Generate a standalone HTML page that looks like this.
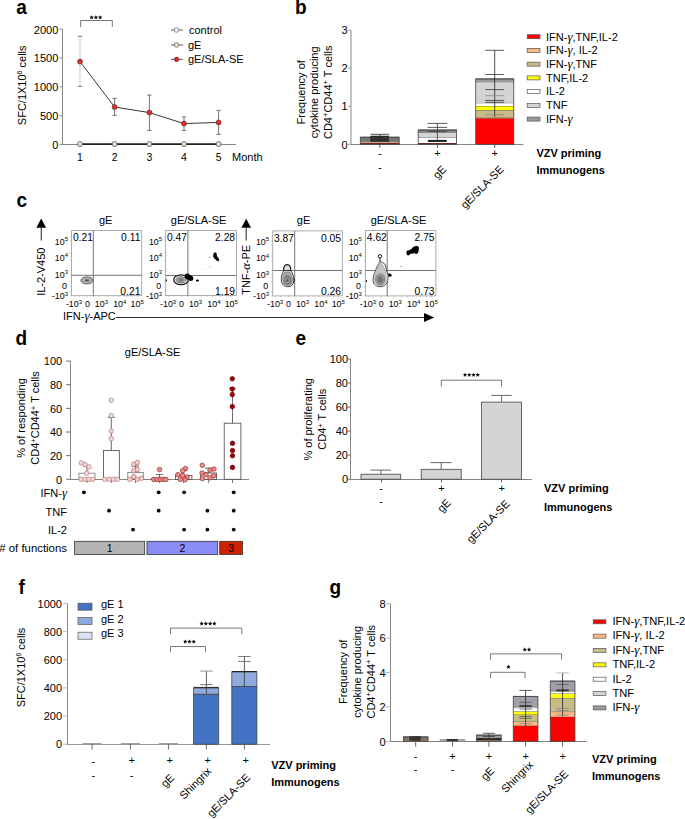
<!DOCTYPE html>
<html><head><meta charset="utf-8"><style>
html,body{margin:0;padding:0;background:#fff;}
svg{display:block;}
text{font-family:"Liberation Sans", sans-serif;}
</style></head><body>
<svg width="685" height="819" viewBox="0 0 685 819" font-family='"Liberation Sans", sans-serif'>
<rect width="685" height="819" fill="#fff"/>
<text transform="translate(16.2,14.1) scale(1,1.09)" font-size="19" font-weight="bold">a</text>
<line x1="62.5" y1="29.2" x2="62.5" y2="145" stroke="#858585" stroke-width="1" />
<line x1="59.4" y1="144.4" x2="62.5" y2="144.4" stroke="#858585" stroke-width="0.9" />
<text x="58.3" y="148.70000000000002" font-size="11" text-anchor="end" fill="#000" >0</text>
<line x1="59.4" y1="115.60000000000001" x2="62.5" y2="115.60000000000001" stroke="#858585" stroke-width="0.9" />
<text x="58.3" y="119.9" font-size="11" text-anchor="end" fill="#000" >500</text>
<line x1="59.4" y1="86.80000000000001" x2="62.5" y2="86.80000000000001" stroke="#858585" stroke-width="0.9" />
<text x="58.3" y="91.10000000000001" font-size="11" text-anchor="end" fill="#000" >1000</text>
<line x1="59.4" y1="58.0" x2="62.5" y2="58.0" stroke="#858585" stroke-width="0.9" />
<text x="58.3" y="62.3" font-size="11" text-anchor="end" fill="#000" >1500</text>
<line x1="59.4" y1="29.200000000000003" x2="62.5" y2="29.200000000000003" stroke="#858585" stroke-width="0.9" />
<text x="58.3" y="33.5" font-size="11" text-anchor="end" fill="#000" >2000</text>
<line x1="62" y1="144.5" x2="236" y2="144.5" stroke="#858585" stroke-width="1" />
<line x1="80" y1="144.5" x2="80" y2="147" stroke="#858585" stroke-width="0.9" />
<text x="80" y="161" font-size="10.5" text-anchor="middle" fill="#000" >1</text>
<line x1="114.6" y1="144.5" x2="114.6" y2="147" stroke="#858585" stroke-width="0.9" />
<text x="114.6" y="161" font-size="10.5" text-anchor="middle" fill="#000" >2</text>
<line x1="149.4" y1="144.5" x2="149.4" y2="147" stroke="#858585" stroke-width="0.9" />
<text x="149.4" y="161" font-size="10.5" text-anchor="middle" fill="#000" >3</text>
<line x1="184" y1="144.5" x2="184" y2="147" stroke="#858585" stroke-width="0.9" />
<text x="184" y="161" font-size="10.5" text-anchor="middle" fill="#000" >4</text>
<line x1="218.6" y1="144.5" x2="218.6" y2="147" stroke="#858585" stroke-width="0.9" />
<text x="218.6" y="161" font-size="10.5" text-anchor="middle" fill="#000" >5</text>
<text x="232" y="161" font-size="11" text-anchor="start" fill="#000" >Month</text>
<text transform="translate(26.2,85.3) rotate(-90)" font-size="11" text-anchor="middle">SFC/1X10<tspan dy="-4" font-size="7">6</tspan><tspan dy="4"> cells</tspan></text>
<line x1="80" y1="36.4" x2="80" y2="86.4" stroke="#bbb" stroke-width="0.8" />
<line x1="77.8" y1="36.4" x2="82.2" y2="36.4" stroke="#bbb" stroke-width="0.8" />
<line x1="77.8" y1="86.4" x2="82.2" y2="86.4" stroke="#bbb" stroke-width="0.8" />
<line x1="77.8" y1="36.4" x2="82.2" y2="36.4" stroke="#777" stroke-width="0.8" />
<line x1="77.8" y1="86.4" x2="82.2" y2="86.4" stroke="#777" stroke-width="0.8" />
<line x1="114.6" y1="98.4" x2="114.6" y2="115.4" stroke="#555" stroke-width="0.8" />
<line x1="112.39999999999999" y1="98.4" x2="116.8" y2="98.4" stroke="#555" stroke-width="0.8" />
<line x1="112.39999999999999" y1="115.4" x2="116.8" y2="115.4" stroke="#555" stroke-width="0.8" />
<line x1="149.4" y1="95" x2="149.4" y2="130.4" stroke="#555" stroke-width="0.8" />
<line x1="147.20000000000002" y1="95" x2="151.6" y2="95" stroke="#555" stroke-width="0.8" />
<line x1="147.20000000000002" y1="130.4" x2="151.6" y2="130.4" stroke="#555" stroke-width="0.8" />
<line x1="184" y1="117" x2="184" y2="130.4" stroke="#555" stroke-width="0.8" />
<line x1="181.8" y1="117" x2="186.2" y2="117" stroke="#555" stroke-width="0.8" />
<line x1="181.8" y1="130.4" x2="186.2" y2="130.4" stroke="#555" stroke-width="0.8" />
<line x1="218.6" y1="110.4" x2="218.6" y2="134.4" stroke="#555" stroke-width="0.8" />
<line x1="216.4" y1="110.4" x2="220.79999999999998" y2="110.4" stroke="#555" stroke-width="0.8" />
<line x1="216.4" y1="134.4" x2="220.79999999999998" y2="134.4" stroke="#555" stroke-width="0.8" />
<polyline points="80,61.6 114.6,107 149.4,112.6 184,123.6 218.6,122.4" fill="none" stroke="#222" stroke-width="0.9"/>
<line x1="80" y1="144.1" x2="218.6" y2="144.1" stroke="#222" stroke-width="1.6" />
<circle cx="80" cy="61.6" r="2.5" fill="#ee2a2a" stroke="#333" stroke-width="0.6"/>
<circle cx="114.6" cy="107" r="2.5" fill="#ee2a2a" stroke="#333" stroke-width="0.6"/>
<circle cx="149.4" cy="112.6" r="2.5" fill="#ee2a2a" stroke="#333" stroke-width="0.6"/>
<circle cx="184" cy="123.6" r="2.5" fill="#ee2a2a" stroke="#333" stroke-width="0.6"/>
<circle cx="218.6" cy="122.4" r="2.5" fill="#ee2a2a" stroke="#333" stroke-width="0.6"/>
<circle cx="80" cy="144.0" r="2.5" fill="#ece4c4" stroke="#444" stroke-width="0.7"/>
<circle cx="114.6" cy="144.0" r="2.5" fill="#ece4c4" stroke="#444" stroke-width="0.7"/>
<circle cx="149.4" cy="144.0" r="2.5" fill="#ece4c4" stroke="#444" stroke-width="0.7"/>
<circle cx="184" cy="144.0" r="2.5" fill="#ece4c4" stroke="#444" stroke-width="0.7"/>
<circle cx="218.6" cy="144.0" r="2.5" fill="#ece4c4" stroke="#444" stroke-width="0.7"/>
<polyline points="80.6,27 80.6,20.5 112.3,20.5 112.3,27" fill="none" stroke="#555" stroke-width="0.8"/>
<polygon points="91.65,15.15 92.31,16.49 93.79,16.70 92.72,17.75 92.97,19.22 91.65,18.52 90.33,19.22 90.58,17.75 89.51,16.70 90.99,16.49" fill="#111"/>
<polygon points="95.90,15.15 96.56,16.49 98.04,16.70 96.97,17.75 97.22,19.22 95.90,18.52 94.58,19.22 94.83,17.75 93.76,16.70 95.24,16.49" fill="#111"/>
<polygon points="100.15,15.15 100.81,16.49 102.29,16.70 101.22,17.75 101.47,19.22 100.15,18.52 98.83,19.22 99.08,17.75 98.01,16.70 99.49,16.49" fill="#111"/>
<line x1="171" y1="30" x2="183" y2="30" stroke="#333" stroke-width="0.8" />
<circle cx="176.6" cy="30" r="2.3" fill="#fff" stroke="#444" stroke-width="0.6"/>
<text x="189" y="33.8" font-size="11" text-anchor="start" fill="#000" >control</text>
<line x1="171" y1="45" x2="183" y2="45" stroke="#333" stroke-width="0.8" />
<circle cx="176.6" cy="45" r="2.3" fill="#ece4c4" stroke="#444" stroke-width="0.6"/>
<text x="188" y="48.8" font-size="11" text-anchor="start" fill="#000" >gE</text>
<line x1="171" y1="59.4" x2="183" y2="59.4" stroke="#333" stroke-width="0.8" />
<circle cx="176.6" cy="59.4" r="2.3" fill="#ee1c1c" stroke="#444" stroke-width="0.6"/>
<text x="188" y="63.199999999999996" font-size="11" text-anchor="start" fill="#000" >gE/SLA-SE</text>
<text transform="translate(294.9,14.0) scale(1,1.09)" font-size="19" font-weight="bold">b</text>
<line x1="351" y1="30.15000000000002" x2="351" y2="144.3" stroke="#aaa" stroke-width="1.4" />
<line x1="348.2" y1="144.3" x2="351" y2="144.3" stroke="#999" stroke-width="1" />
<text x="347.6" y="148.5" font-size="11" text-anchor="end" fill="#000" >0</text>
<line x1="348.2" y1="106.25000000000001" x2="351" y2="106.25000000000001" stroke="#999" stroke-width="1" />
<text x="347.6" y="110.45000000000002" font-size="11" text-anchor="end" fill="#000" >1</text>
<line x1="348.2" y1="68.20000000000002" x2="351" y2="68.20000000000002" stroke="#999" stroke-width="1" />
<text x="347.6" y="72.40000000000002" font-size="11" text-anchor="end" fill="#000" >2</text>
<line x1="348.2" y1="30.15000000000002" x2="351" y2="30.15000000000002" stroke="#999" stroke-width="1" />
<text x="347.6" y="34.35000000000002" font-size="11" text-anchor="end" fill="#000" >3</text>
<line x1="351" y1="144.5" x2="523.3" y2="144.5" stroke="#858585" stroke-width="1" />
<text transform="translate(304.5,92.3) rotate(-90)" font-size="11" text-anchor="middle">Frequency of</text>
<text transform="translate(318.3,92.3) rotate(-90)" font-size="11" text-anchor="middle">cytokine producing</text>
<text transform="translate(332,92.3) rotate(-90)" font-size="11" text-anchor="middle">CD4<tspan dy="-3.6" font-size="7.6">+</tspan><tspan dy="3.6">CD44</tspan><tspan dy="-3.6" font-size="7.6">+</tspan><tspan dy="3.6"> T cells</tspan></text>
<rect x="360.3" y="143.0" width="38.89999999999998" height="1.3000000000000114" fill="#8b1a1a" stroke="none" stroke-width="0.8" />
<line x1="360.3" y1="143.0" x2="399.2" y2="143.0" stroke="#444" stroke-width="0.7" />
<rect x="360.3" y="141.8" width="38.89999999999998" height="1.1999999999999886" fill="#f9b985" stroke="none" stroke-width="0.8" />
<line x1="360.3" y1="141.8" x2="399.2" y2="141.8" stroke="#444" stroke-width="0.7" />
<rect x="360.3" y="137.2" width="38.89999999999998" height="4.600000000000023" fill="#777" stroke="none" stroke-width="0.8" />
<line x1="360.3" y1="137.2" x2="399.2" y2="137.2" stroke="#444" stroke-width="0.7" />
<rect x="360.3" y="137.2" width="38.89999999999998" height="7.100000000000023" fill="none" stroke="#444" stroke-width="0.8" />
<rect x="370.3" y="136" width="18.7" height="5.5" fill="#333" stroke="none" stroke-width="0.8" />
<line x1="379.8" y1="134.3" x2="379.8" y2="141" stroke="#222" stroke-width="0.8" />
<line x1="370.45" y1="134.3" x2="389.15000000000003" y2="134.3" stroke="#222" stroke-width="0.8" />
<line x1="370.45" y1="141" x2="389.15000000000003" y2="141" stroke="#222" stroke-width="0.8" />
<line x1="370.45" y1="136.2" x2="389.15000000000003" y2="136.2" stroke="#222" stroke-width="0.8" />
<rect x="418.2" y="143.0" width="38.400000000000034" height="1.3000000000000114" fill="#8b1a1a" stroke="none" stroke-width="0.8" />
<line x1="418.2" y1="143.0" x2="456.6" y2="143.0" stroke="#444" stroke-width="0.7" />
<rect x="418.2" y="137.5" width="38.400000000000034" height="5.5" fill="#fff" stroke="none" stroke-width="0.8" />
<line x1="418.2" y1="137.5" x2="456.6" y2="137.5" stroke="#444" stroke-width="0.7" />
<rect x="418.2" y="132.3" width="38.400000000000034" height="5.199999999999989" fill="#d4d4d4" stroke="none" stroke-width="0.8" />
<line x1="418.2" y1="132.3" x2="456.6" y2="132.3" stroke="#444" stroke-width="0.7" />
<rect x="418.2" y="130" width="38.400000000000034" height="2.3000000000000114" fill="#888" stroke="none" stroke-width="0.8" />
<line x1="418.2" y1="130" x2="456.6" y2="130" stroke="#444" stroke-width="0.7" />
<rect x="418.2" y="130" width="38.400000000000034" height="14.300000000000011" fill="none" stroke="#444" stroke-width="0.8" />
<rect x="428" y="139.9" width="18.5" height="2.0" fill="#111" stroke="none" stroke-width="0.8" />
<line x1="437.4" y1="123.4" x2="437.4" y2="141" stroke="#333" stroke-width="0.8" />
<line x1="427.65" y1="123.4" x2="447.15" y2="123.4" stroke="#333" stroke-width="0.8" />
<line x1="427.65" y1="141" x2="447.15" y2="141" stroke="#333" stroke-width="0.8" />
<line x1="427.65" y1="127.4" x2="447.15" y2="127.4" stroke="#333" stroke-width="0.8" />
<line x1="427.65" y1="131.5" x2="447.15" y2="131.5" stroke="#444" stroke-width="0.8" />
<rect x="475.7" y="118.2" width="38.099999999999966" height="26.10000000000001" fill="#ff0000" stroke="none" stroke-width="0.8" />
<line x1="475.7" y1="118.2" x2="513.8" y2="118.2" stroke="#444" stroke-width="0.7" />
<rect x="475.7" y="117.0" width="38.099999999999966" height="1.2000000000000028" fill="#f9b985" stroke="none" stroke-width="0.8" />
<line x1="475.7" y1="117.0" x2="513.8" y2="117.0" stroke="#444" stroke-width="0.7" />
<rect x="475.7" y="110.0" width="38.099999999999966" height="7.0" fill="#c9bb88" stroke="none" stroke-width="0.8" />
<line x1="475.7" y1="110.0" x2="513.8" y2="110.0" stroke="#444" stroke-width="0.7" />
<rect x="475.7" y="106.0" width="38.099999999999966" height="4.0" fill="#ffff00" stroke="none" stroke-width="0.8" />
<line x1="475.7" y1="106.0" x2="513.8" y2="106.0" stroke="#444" stroke-width="0.7" />
<rect x="475.7" y="102.8" width="38.099999999999966" height="3.200000000000003" fill="#fff" stroke="none" stroke-width="0.8" />
<line x1="475.7" y1="102.8" x2="513.8" y2="102.8" stroke="#444" stroke-width="0.7" />
<rect x="475.7" y="81.8" width="38.099999999999966" height="21.0" fill="#d4d4d4" stroke="none" stroke-width="0.8" />
<line x1="475.7" y1="81.8" x2="513.8" y2="81.8" stroke="#444" stroke-width="0.7" />
<rect x="475.7" y="78.9" width="38.099999999999966" height="2.8999999999999915" fill="#9a9a9a" stroke="none" stroke-width="0.8" />
<line x1="475.7" y1="78.9" x2="513.8" y2="78.9" stroke="#444" stroke-width="0.7" />
<rect x="475.7" y="78.9" width="38.099999999999966" height="65.4" fill="none" stroke="#444" stroke-width="0.8" />
<line x1="494.7" y1="50.3" x2="494.7" y2="117" stroke="#222" stroke-width="0.8" />
<line x1="485.2" y1="50.3" x2="504.2" y2="50.3" stroke="#333" stroke-width="0.8" />
<line x1="485.2" y1="74.5" x2="504.2" y2="74.5" stroke="#333" stroke-width="0.8" />
<line x1="485.2" y1="89.6" x2="504.2" y2="89.6" stroke="#333" stroke-width="0.8" />
<line x1="485.2" y1="95.7" x2="504.2" y2="95.7" stroke="#888" stroke-width="0.8" />
<line x1="485.2" y1="100.4" x2="504.2" y2="100.4" stroke="#333" stroke-width="0.8" />
<line x1="485.2" y1="102.3" x2="504.2" y2="102.3" stroke="#333" stroke-width="0.8" />
<line x1="485.2" y1="114.8" x2="504.2" y2="114.8" stroke="#888" stroke-width="0.8" />
<line x1="379.8" y1="144.5" x2="379.8" y2="147.8" stroke="#555" stroke-width="1" />
<line x1="437.4" y1="144.5" x2="437.4" y2="147.8" stroke="#555" stroke-width="1" />
<line x1="494.7" y1="144.5" x2="494.7" y2="147.8" stroke="#555" stroke-width="1" />
<text x="379.8" y="157.3" font-size="11" text-anchor="middle" fill="#000" >-</text>
<text x="437.4" y="157.3" font-size="11" text-anchor="middle" fill="#000" >+</text>
<text x="494.7" y="157.3" font-size="11" text-anchor="middle" fill="#000" >+</text>
<text x="379.8" y="171.3" font-size="11" text-anchor="middle" fill="#000" >-</text>
<text transform="translate(447,170) rotate(-45)" font-size="11" text-anchor="end">gE</text>
<text transform="translate(504.5,170) rotate(-45)" font-size="11" text-anchor="end">gE/SLA-SE</text>
<text x="536.4" y="157" font-size="11" text-anchor="start" font-weight="bold" fill="#000" >VZV priming</text>
<text x="536.4" y="174.4" font-size="11" text-anchor="start" font-weight="bold" fill="#000" >Immunogens</text>
<rect x="527.2" y="34.7" width="12.8" height="4.0" fill="#ff0000" stroke="#555" stroke-width="0.7" />
<text x="546" y="40.5" font-size="11" text-anchor="start" fill="#000" >IFN-<tspan font-family="Liberation Serif" font-style="italic" font-size="118%">&#947;</tspan>,TNF,IL-2</text>
<rect x="527.2" y="48.43" width="12.8" height="4.0" fill="#f9b985" stroke="#555" stroke-width="0.7" />
<text x="546" y="54.23" font-size="11" text-anchor="start" fill="#000" >IFN-<tspan font-family="Liberation Serif" font-style="italic" font-size="118%">&#947;</tspan>, IL-2</text>
<rect x="527.2" y="62.160000000000004" width="12.8" height="4.0" fill="#c9bb88" stroke="#555" stroke-width="0.7" />
<text x="546" y="67.96000000000001" font-size="11" text-anchor="start" fill="#000" >IFN-<tspan font-family="Liberation Serif" font-style="italic" font-size="118%">&#947;</tspan>,TNF</text>
<rect x="527.2" y="75.88999999999999" width="12.8" height="4.0" fill="#ffff00" stroke="#555" stroke-width="0.7" />
<text x="546" y="81.69" font-size="11" text-anchor="start" fill="#000" >TNF,IL-2</text>
<rect x="527.2" y="89.62" width="12.8" height="4.0" fill="#ffffff" stroke="#555" stroke-width="0.7" />
<text x="546" y="95.42000000000002" font-size="11" text-anchor="start" fill="#000" >IL-2</text>
<rect x="527.2" y="103.35" width="12.8" height="4.0" fill="#d4d4d4" stroke="#555" stroke-width="0.7" />
<text x="546" y="109.15" font-size="11" text-anchor="start" fill="#000" >TNF</text>
<rect x="527.2" y="117.07999999999998" width="12.8" height="4.0" fill="#9a9a9a" stroke="#555" stroke-width="0.7" />
<text x="546" y="122.88" font-size="11" text-anchor="start" fill="#000" >IFN-<tspan font-family="Liberation Serif" font-style="italic" font-size="118%">&#947;</tspan></text>
<text transform="translate(16.6,207.0) scale(1,1.09)" font-size="19" font-weight="bold">c</text>
<rect x="71.6" y="230.6" width="70.1" height="65.1" fill="#fff" stroke="#999" stroke-width="0.8" />
<text x="99" y="223.6" font-size="11" text-anchor="start" fill="#000" >gE</text>
<text x="68.0" y="244.5" font-size="8.9" text-anchor="end">10<tspan dy="-3.5" font-size="6.0">5</tspan></text>
<text x="68.0" y="260.8" font-size="8.9" text-anchor="end">10<tspan dy="-3.5" font-size="6.0">4</tspan></text>
<text x="68.0" y="277.9" font-size="8.9" text-anchor="end">10<tspan dy="-3.5" font-size="6.0">3</tspan></text>
<text x="67.0" y="288.8" font-size="8.9" text-anchor="end">0</text>
<text x="68.0" y="299.0" font-size="8.9" text-anchor="end">-10<tspan dy="-3.5" font-size="6.0">3</tspan></text>
<line x1="70.0" y1="236.6" x2="71.6" y2="236.6" stroke="#aaa" stroke-width="0.5" />
<line x1="70.0" y1="240.6" x2="71.6" y2="240.6" stroke="#aaa" stroke-width="0.5" />
<line x1="70.0" y1="244.6" x2="71.6" y2="244.6" stroke="#aaa" stroke-width="0.5" />
<line x1="70.0" y1="252.6" x2="71.6" y2="252.6" stroke="#aaa" stroke-width="0.5" />
<line x1="70.0" y1="256.6" x2="71.6" y2="256.6" stroke="#aaa" stroke-width="0.5" />
<line x1="70.0" y1="260.6" x2="71.6" y2="260.6" stroke="#aaa" stroke-width="0.5" />
<line x1="70.0" y1="270.6" x2="71.6" y2="270.6" stroke="#aaa" stroke-width="0.5" />
<line x1="70.0" y1="274.6" x2="71.6" y2="274.6" stroke="#aaa" stroke-width="0.5" />
<line x1="70.0" y1="277.6" x2="71.6" y2="277.6" stroke="#aaa" stroke-width="0.5" />
<line x1="70.0" y1="281.6" x2="71.6" y2="281.6" stroke="#aaa" stroke-width="0.5" />
<line x1="70.0" y1="286.6" x2="71.6" y2="286.6" stroke="#aaa" stroke-width="0.5" />
<line x1="70.0" y1="291.6" x2="71.6" y2="291.6" stroke="#aaa" stroke-width="0.5" />
<line x1="70.0" y1="295.6" x2="71.6" y2="295.6" stroke="#aaa" stroke-width="0.5" />
<text x="65.89999999999999" y="307.1" font-size="8.9" text-anchor="start">-10<tspan dy="-3.5" font-size="6.0">3</tspan></text>
<text x="87.39999999999999" y="307.1" font-size="8.9" text-anchor="middle">0</text>
<text x="94.8" y="307.1" font-size="8.9" text-anchor="start">10<tspan dy="-3.5" font-size="6.0">3</tspan></text>
<text x="113.19999999999999" y="307.1" font-size="8.9" text-anchor="start">10<tspan dy="-3.5" font-size="6.0">4</tspan></text>
<text x="130.6" y="307.1" font-size="8.9" text-anchor="start">10<tspan dy="-3.5" font-size="6.0">5</tspan></text>
<line x1="74.6" y1="295.7" x2="74.6" y2="297.3" stroke="#aaa" stroke-width="0.5" />
<line x1="79.6" y1="295.7" x2="79.6" y2="297.3" stroke="#aaa" stroke-width="0.5" />
<line x1="87.39999999999999" y1="295.7" x2="87.39999999999999" y2="297.3" stroke="#aaa" stroke-width="0.5" />
<line x1="93.6" y1="295.7" x2="93.6" y2="297.3" stroke="#aaa" stroke-width="0.5" />
<line x1="99.6" y1="295.7" x2="99.6" y2="297.3" stroke="#aaa" stroke-width="0.5" />
<line x1="107.6" y1="295.7" x2="107.6" y2="297.3" stroke="#aaa" stroke-width="0.5" />
<line x1="113.6" y1="295.7" x2="113.6" y2="297.3" stroke="#aaa" stroke-width="0.5" />
<line x1="118.6" y1="295.7" x2="118.6" y2="297.3" stroke="#aaa" stroke-width="0.5" />
<line x1="126.6" y1="295.7" x2="126.6" y2="297.3" stroke="#aaa" stroke-width="0.5" />
<line x1="132.6" y1="295.7" x2="132.6" y2="297.3" stroke="#aaa" stroke-width="0.5" />
<line x1="137.6" y1="295.7" x2="137.6" y2="297.3" stroke="#aaa" stroke-width="0.5" />
<line x1="93.3" y1="230.6" x2="93.3" y2="295.7" stroke="#666" stroke-width="0.9" />
<line x1="71.6" y1="275.3" x2="141.7" y2="275.3" stroke="#666" stroke-width="0.9" />
<text x="72.89999999999999" y="241.2" font-size="10.3" text-anchor="start" fill="#000" >0.21</text>
<text x="140.39999999999998" y="241.2" font-size="10.3" text-anchor="end" fill="#000" >0.11</text>
<text x="140.39999999999998" y="294.6" font-size="10.3" text-anchor="end" fill="#000" >0.21</text>
<rect x="165.7" y="230.6" width="70.70000000000002" height="65.00000000000003" fill="#fff" stroke="#999" stroke-width="0.8" />
<text x="170.8" y="223.6" font-size="11" text-anchor="start" fill="#000" >gE/SLA-SE</text>
<text x="162.1" y="244.5" font-size="8.9" text-anchor="end">10<tspan dy="-3.5" font-size="6.0">5</tspan></text>
<text x="162.1" y="260.8" font-size="8.9" text-anchor="end">10<tspan dy="-3.5" font-size="6.0">4</tspan></text>
<text x="162.1" y="277.9" font-size="8.9" text-anchor="end">10<tspan dy="-3.5" font-size="6.0">3</tspan></text>
<text x="161.1" y="288.8" font-size="8.9" text-anchor="end">0</text>
<text x="162.1" y="299.0" font-size="8.9" text-anchor="end">-10<tspan dy="-3.5" font-size="6.0">3</tspan></text>
<line x1="164.1" y1="236.6" x2="165.7" y2="236.6" stroke="#aaa" stroke-width="0.5" />
<line x1="164.1" y1="240.6" x2="165.7" y2="240.6" stroke="#aaa" stroke-width="0.5" />
<line x1="164.1" y1="244.6" x2="165.7" y2="244.6" stroke="#aaa" stroke-width="0.5" />
<line x1="164.1" y1="252.6" x2="165.7" y2="252.6" stroke="#aaa" stroke-width="0.5" />
<line x1="164.1" y1="256.6" x2="165.7" y2="256.6" stroke="#aaa" stroke-width="0.5" />
<line x1="164.1" y1="260.6" x2="165.7" y2="260.6" stroke="#aaa" stroke-width="0.5" />
<line x1="164.1" y1="270.6" x2="165.7" y2="270.6" stroke="#aaa" stroke-width="0.5" />
<line x1="164.1" y1="274.6" x2="165.7" y2="274.6" stroke="#aaa" stroke-width="0.5" />
<line x1="164.1" y1="277.6" x2="165.7" y2="277.6" stroke="#aaa" stroke-width="0.5" />
<line x1="164.1" y1="281.6" x2="165.7" y2="281.6" stroke="#aaa" stroke-width="0.5" />
<line x1="164.1" y1="286.6" x2="165.7" y2="286.6" stroke="#aaa" stroke-width="0.5" />
<line x1="164.1" y1="291.6" x2="165.7" y2="291.6" stroke="#aaa" stroke-width="0.5" />
<line x1="164.1" y1="295.6" x2="165.7" y2="295.6" stroke="#aaa" stroke-width="0.5" />
<text x="160.0" y="307.1" font-size="8.9" text-anchor="start">-10<tspan dy="-3.5" font-size="6.0">3</tspan></text>
<text x="181.5" y="307.1" font-size="8.9" text-anchor="middle">0</text>
<text x="188.89999999999998" y="307.1" font-size="8.9" text-anchor="start">10<tspan dy="-3.5" font-size="6.0">3</tspan></text>
<text x="207.29999999999998" y="307.1" font-size="8.9" text-anchor="start">10<tspan dy="-3.5" font-size="6.0">4</tspan></text>
<text x="224.7" y="307.1" font-size="8.9" text-anchor="start">10<tspan dy="-3.5" font-size="6.0">5</tspan></text>
<line x1="168.7" y1="295.6" x2="168.7" y2="297.20000000000005" stroke="#aaa" stroke-width="0.5" />
<line x1="173.7" y1="295.6" x2="173.7" y2="297.20000000000005" stroke="#aaa" stroke-width="0.5" />
<line x1="181.5" y1="295.6" x2="181.5" y2="297.20000000000005" stroke="#aaa" stroke-width="0.5" />
<line x1="187.7" y1="295.6" x2="187.7" y2="297.20000000000005" stroke="#aaa" stroke-width="0.5" />
<line x1="193.7" y1="295.6" x2="193.7" y2="297.20000000000005" stroke="#aaa" stroke-width="0.5" />
<line x1="201.7" y1="295.6" x2="201.7" y2="297.20000000000005" stroke="#aaa" stroke-width="0.5" />
<line x1="207.7" y1="295.6" x2="207.7" y2="297.20000000000005" stroke="#aaa" stroke-width="0.5" />
<line x1="212.7" y1="295.6" x2="212.7" y2="297.20000000000005" stroke="#aaa" stroke-width="0.5" />
<line x1="220.7" y1="295.6" x2="220.7" y2="297.20000000000005" stroke="#aaa" stroke-width="0.5" />
<line x1="226.7" y1="295.6" x2="226.7" y2="297.20000000000005" stroke="#aaa" stroke-width="0.5" />
<line x1="231.7" y1="295.6" x2="231.7" y2="297.20000000000005" stroke="#aaa" stroke-width="0.5" />
<line x1="187.9" y1="230.6" x2="187.9" y2="295.6" stroke="#666" stroke-width="0.9" />
<line x1="165.7" y1="275.5" x2="236.4" y2="275.5" stroke="#666" stroke-width="0.9" />
<text x="167.0" y="241.2" font-size="10.3" text-anchor="start" fill="#000" >0.47</text>
<text x="235.1" y="241.2" font-size="10.3" text-anchor="end" fill="#000" >2.28</text>
<text x="235.1" y="294.6" font-size="10.3" text-anchor="end" fill="#000" >1.19</text>
<rect x="272.7" y="230.9" width="69.60000000000002" height="64.99999999999997" fill="#fff" stroke="#999" stroke-width="0.8" />
<text x="296.8" y="223.6" font-size="11" text-anchor="start" fill="#000" >gE</text>
<text x="269.09999999999997" y="244.8" font-size="8.9" text-anchor="end">10<tspan dy="-3.5" font-size="6.0">5</tspan></text>
<text x="269.09999999999997" y="261.1" font-size="8.9" text-anchor="end">10<tspan dy="-3.5" font-size="6.0">4</tspan></text>
<text x="269.09999999999997" y="278.2" font-size="8.9" text-anchor="end">10<tspan dy="-3.5" font-size="6.0">3</tspan></text>
<text x="268.09999999999997" y="289.1" font-size="8.9" text-anchor="end">0</text>
<text x="269.09999999999997" y="299.3" font-size="8.9" text-anchor="end">-10<tspan dy="-3.5" font-size="6.0">3</tspan></text>
<line x1="271.09999999999997" y1="236.9" x2="272.7" y2="236.9" stroke="#aaa" stroke-width="0.5" />
<line x1="271.09999999999997" y1="240.9" x2="272.7" y2="240.9" stroke="#aaa" stroke-width="0.5" />
<line x1="271.09999999999997" y1="244.9" x2="272.7" y2="244.9" stroke="#aaa" stroke-width="0.5" />
<line x1="271.09999999999997" y1="252.9" x2="272.7" y2="252.9" stroke="#aaa" stroke-width="0.5" />
<line x1="271.09999999999997" y1="256.9" x2="272.7" y2="256.9" stroke="#aaa" stroke-width="0.5" />
<line x1="271.09999999999997" y1="260.9" x2="272.7" y2="260.9" stroke="#aaa" stroke-width="0.5" />
<line x1="271.09999999999997" y1="270.9" x2="272.7" y2="270.9" stroke="#aaa" stroke-width="0.5" />
<line x1="271.09999999999997" y1="274.9" x2="272.7" y2="274.9" stroke="#aaa" stroke-width="0.5" />
<line x1="271.09999999999997" y1="277.9" x2="272.7" y2="277.9" stroke="#aaa" stroke-width="0.5" />
<line x1="271.09999999999997" y1="281.9" x2="272.7" y2="281.9" stroke="#aaa" stroke-width="0.5" />
<line x1="271.09999999999997" y1="286.9" x2="272.7" y2="286.9" stroke="#aaa" stroke-width="0.5" />
<line x1="271.09999999999997" y1="291.9" x2="272.7" y2="291.9" stroke="#aaa" stroke-width="0.5" />
<line x1="271.09999999999997" y1="295.9" x2="272.7" y2="295.9" stroke="#aaa" stroke-width="0.5" />
<text x="267.0" y="307.4" font-size="8.9" text-anchor="start">-10<tspan dy="-3.5" font-size="6.0">3</tspan></text>
<text x="288.5" y="307.4" font-size="8.9" text-anchor="middle">0</text>
<text x="295.9" y="307.4" font-size="8.9" text-anchor="start">10<tspan dy="-3.5" font-size="6.0">3</tspan></text>
<text x="314.3" y="307.4" font-size="8.9" text-anchor="start">10<tspan dy="-3.5" font-size="6.0">4</tspan></text>
<text x="331.7" y="307.4" font-size="8.9" text-anchor="start">10<tspan dy="-3.5" font-size="6.0">5</tspan></text>
<line x1="275.7" y1="295.9" x2="275.7" y2="297.5" stroke="#aaa" stroke-width="0.5" />
<line x1="280.7" y1="295.9" x2="280.7" y2="297.5" stroke="#aaa" stroke-width="0.5" />
<line x1="288.5" y1="295.9" x2="288.5" y2="297.5" stroke="#aaa" stroke-width="0.5" />
<line x1="294.7" y1="295.9" x2="294.7" y2="297.5" stroke="#aaa" stroke-width="0.5" />
<line x1="300.7" y1="295.9" x2="300.7" y2="297.5" stroke="#aaa" stroke-width="0.5" />
<line x1="308.7" y1="295.9" x2="308.7" y2="297.5" stroke="#aaa" stroke-width="0.5" />
<line x1="314.7" y1="295.9" x2="314.7" y2="297.5" stroke="#aaa" stroke-width="0.5" />
<line x1="319.7" y1="295.9" x2="319.7" y2="297.5" stroke="#aaa" stroke-width="0.5" />
<line x1="327.7" y1="295.9" x2="327.7" y2="297.5" stroke="#aaa" stroke-width="0.5" />
<line x1="333.7" y1="295.9" x2="333.7" y2="297.5" stroke="#aaa" stroke-width="0.5" />
<line x1="338.7" y1="295.9" x2="338.7" y2="297.5" stroke="#aaa" stroke-width="0.5" />
<line x1="294.7" y1="230.9" x2="294.7" y2="295.9" stroke="#666" stroke-width="0.9" />
<line x1="272.7" y1="270.5" x2="342.3" y2="270.5" stroke="#666" stroke-width="0.9" />
<text x="274.0" y="241.5" font-size="10.3" text-anchor="start" fill="#000" >3.87</text>
<text x="341.0" y="241.5" font-size="10.3" text-anchor="end" fill="#000" >0.05</text>
<text x="341.0" y="294.9" font-size="10.3" text-anchor="end" fill="#000" >0.26</text>
<rect x="365.5" y="230.6" width="70.39999999999998" height="65.29999999999998" fill="#fff" stroke="#999" stroke-width="0.8" />
<text x="370.7" y="223.6" font-size="11" text-anchor="start" fill="#000" >gE/SLA-SE</text>
<text x="361.9" y="244.5" font-size="8.9" text-anchor="end">10<tspan dy="-3.5" font-size="6.0">5</tspan></text>
<text x="361.9" y="260.8" font-size="8.9" text-anchor="end">10<tspan dy="-3.5" font-size="6.0">4</tspan></text>
<text x="361.9" y="277.9" font-size="8.9" text-anchor="end">10<tspan dy="-3.5" font-size="6.0">3</tspan></text>
<text x="360.9" y="288.8" font-size="8.9" text-anchor="end">0</text>
<text x="361.9" y="299.0" font-size="8.9" text-anchor="end">-10<tspan dy="-3.5" font-size="6.0">3</tspan></text>
<line x1="363.9" y1="236.6" x2="365.5" y2="236.6" stroke="#aaa" stroke-width="0.5" />
<line x1="363.9" y1="240.6" x2="365.5" y2="240.6" stroke="#aaa" stroke-width="0.5" />
<line x1="363.9" y1="244.6" x2="365.5" y2="244.6" stroke="#aaa" stroke-width="0.5" />
<line x1="363.9" y1="252.6" x2="365.5" y2="252.6" stroke="#aaa" stroke-width="0.5" />
<line x1="363.9" y1="256.6" x2="365.5" y2="256.6" stroke="#aaa" stroke-width="0.5" />
<line x1="363.9" y1="260.6" x2="365.5" y2="260.6" stroke="#aaa" stroke-width="0.5" />
<line x1="363.9" y1="270.6" x2="365.5" y2="270.6" stroke="#aaa" stroke-width="0.5" />
<line x1="363.9" y1="274.6" x2="365.5" y2="274.6" stroke="#aaa" stroke-width="0.5" />
<line x1="363.9" y1="277.6" x2="365.5" y2="277.6" stroke="#aaa" stroke-width="0.5" />
<line x1="363.9" y1="281.6" x2="365.5" y2="281.6" stroke="#aaa" stroke-width="0.5" />
<line x1="363.9" y1="286.6" x2="365.5" y2="286.6" stroke="#aaa" stroke-width="0.5" />
<line x1="363.9" y1="291.6" x2="365.5" y2="291.6" stroke="#aaa" stroke-width="0.5" />
<line x1="363.9" y1="295.6" x2="365.5" y2="295.6" stroke="#aaa" stroke-width="0.5" />
<text x="359.8" y="307.1" font-size="8.9" text-anchor="start">-10<tspan dy="-3.5" font-size="6.0">3</tspan></text>
<text x="381.3" y="307.1" font-size="8.9" text-anchor="middle">0</text>
<text x="388.7" y="307.1" font-size="8.9" text-anchor="start">10<tspan dy="-3.5" font-size="6.0">3</tspan></text>
<text x="407.1" y="307.1" font-size="8.9" text-anchor="start">10<tspan dy="-3.5" font-size="6.0">4</tspan></text>
<text x="424.5" y="307.1" font-size="8.9" text-anchor="start">10<tspan dy="-3.5" font-size="6.0">5</tspan></text>
<line x1="368.5" y1="295.9" x2="368.5" y2="297.5" stroke="#aaa" stroke-width="0.5" />
<line x1="373.5" y1="295.9" x2="373.5" y2="297.5" stroke="#aaa" stroke-width="0.5" />
<line x1="381.3" y1="295.9" x2="381.3" y2="297.5" stroke="#aaa" stroke-width="0.5" />
<line x1="387.5" y1="295.9" x2="387.5" y2="297.5" stroke="#aaa" stroke-width="0.5" />
<line x1="393.5" y1="295.9" x2="393.5" y2="297.5" stroke="#aaa" stroke-width="0.5" />
<line x1="401.5" y1="295.9" x2="401.5" y2="297.5" stroke="#aaa" stroke-width="0.5" />
<line x1="407.5" y1="295.9" x2="407.5" y2="297.5" stroke="#aaa" stroke-width="0.5" />
<line x1="412.5" y1="295.9" x2="412.5" y2="297.5" stroke="#aaa" stroke-width="0.5" />
<line x1="420.5" y1="295.9" x2="420.5" y2="297.5" stroke="#aaa" stroke-width="0.5" />
<line x1="426.5" y1="295.9" x2="426.5" y2="297.5" stroke="#aaa" stroke-width="0.5" />
<line x1="431.5" y1="295.9" x2="431.5" y2="297.5" stroke="#aaa" stroke-width="0.5" />
<line x1="387.2" y1="230.6" x2="387.2" y2="295.9" stroke="#666" stroke-width="0.9" />
<line x1="365.5" y1="270.5" x2="435.9" y2="270.5" stroke="#666" stroke-width="0.9" />
<text x="366.8" y="241.2" font-size="10.3" text-anchor="start" fill="#000" >4.62</text>
<text x="434.59999999999997" y="241.2" font-size="10.3" text-anchor="end" fill="#000" >2.75</text>
<text x="434.59999999999997" y="294.6" font-size="10.3" text-anchor="end" fill="#000" >0.73</text>
<ellipse cx="87" cy="280.4" rx="6.0" ry="3.5" fill="#999" stroke="#555" stroke-width="1.0"/>
<ellipse cx="87" cy="280.4" rx="4.4" ry="2.4" fill="#aaa" stroke="#ccc" stroke-width="0.6"/>
<ellipse cx="87" cy="280.4" rx="2.6" ry="1.4" fill="#777"/>
<ellipse cx="87" cy="280.4" rx="0.7" ry="0.6" fill="#333"/>
<ellipse cx="181" cy="279.8" rx="7.3" ry="4.9" fill="#fff" stroke="#111" stroke-width="1.2"/>
<ellipse cx="181" cy="279.8" rx="5.109999999999999" ry="3.136" fill="#c8c8c8" stroke="#444" stroke-width="0.7"/>
<ellipse cx="181" cy="279.8" rx="3.504" ry="2.0580000000000003" fill="#999" stroke="#777" stroke-width="0.5"/>
<ellipse cx="181" cy="279.8" rx="1.6059999999999999" ry="1.078" fill="#666"/>
<path d="M184.6,276 C184.6,274.2 185.8,273.3 187.2,273.4 C188.6,273.5 189.6,274.3 190.5,275.2 C192.2,275.6 193.6,277 193.4,278.8 C193.1,280.6 191.6,281.2 190.1,280.9 C189,280.7 188.2,280 187.5,279.6 C186.4,279.2 185.2,278.6 184.7,277.6 Z" fill="#000"/>
<ellipse cx="197.4" cy="280.6" rx="1.6" ry="1.1" fill="#000"/>
<ellipse cx="166.3" cy="280.4" rx="0.6" ry="1.1" fill="#000"/>
<path d="M213.8,253 C215.2,252 217,252.7 216.8,254.6 C216.6,255.8 217.4,256.8 218.3,257.8 C219.4,259 219.3,260.8 218.4,261.3 C217.2,261.5 216,260.2 215.2,259.1 C214,258.2 213,257.4 213.2,255.6 C213.3,254.6 213.3,253.6 213.8,253 Z" fill="#000"/>
<rect x="209" y="257" width="1" height="0.8" fill="#333"/><rect x="209.5" y="266.5" width="0.8" height="0.8" fill="#555"/><rect x="202.5" y="269" width="0.6" height="0.6" fill="#777"/>
<path d="M283.6,270.8 C283.4,266.5 285,264.6 287.2,264.6 C289.4,264.6 291,266.5 290.8,270.8 Z" fill="#ddd" stroke="#111" stroke-width="1.1"/>
<path d="M283.8,270.6 C282,273 281.2,276.5 281.3,279.8 C281.4,284.3 284.3,286.7 287.6,286.7 C291,286.7 293.9,284.3 293.9,280.3 C293.9,276.5 292.6,273 290.6,270.6 Z" fill="#fff" stroke="#222" stroke-width="0.9"/>
<path d="M284.6,272 C283.3,274 282.6,277 282.7,279.8 C282.8,283.4 285,285.4 287.6,285.4 C290.4,285.4 292.5,283.4 292.5,280.3 C292.5,277 291.5,274 290,272 Z" fill="#aaa" stroke="#666" stroke-width="0.6"/>
<ellipse cx="287.6" cy="280.4" rx="3.6" ry="4.3" fill="#8a8a8a" stroke="#666" stroke-width="0.5"/>
<path d="M285.8,276.5 C286.5,275.6 288.6,275.6 289.3,276.5" fill="none" stroke="#555" stroke-width="0.6"/>
<ellipse cx="287.6" cy="280.3" rx="0.7" ry="0.7" fill="#222"/>
<path d="M293.6,278.2 C294.6,279 294.6,281.5 293.6,282.4" fill="none" stroke="#111" stroke-width="0.9"/>
<path d="M380.2,261.2 C378.2,264 376.3,267.5 375.6,270.5 C374,273.5 373,277 373.1,280.5 C373.3,284.8 376.6,286.7 380.3,286.7 C384,286.7 386.4,284.6 387.2,282.2 C388.2,280 388.2,277 387.8,274.2 C387.2,272.5 386.5,271.5 386.4,270 C386.2,268 385.8,265.8 385,264.3 C383.6,263 381.8,262.3 380.2,261.2 Z" fill="#fff" stroke="#222" stroke-width="0.8"/>
<path d="M380.3,262.5 C378.8,265 377.4,268 376.8,270.5 C375.3,273.5 374.5,277 374.5,280.5 C374.7,284 377.2,285.5 380.3,285.5 C383.5,285.5 385.5,283.8 386,281 C386.6,278 386.2,274.5 385.2,270.5 C384.5,267.5 382.8,264.5 380.3,262.5 Z" fill="#c4c4c4" stroke="#888" stroke-width="0.5"/>
<ellipse cx="380.3" cy="279.3" rx="4.6" ry="5.6" fill="#aaa" stroke="#666" stroke-width="0.6"/>
<ellipse cx="380.3" cy="279.6" rx="3.1" ry="3.9" fill="#8a8a8a" stroke="#666" stroke-width="0.5"/>
<ellipse cx="380.3" cy="279.8" rx="1.5" ry="2" fill="#777" stroke="#555" stroke-width="0.4"/>
<circle cx="379.9" cy="256.3" r="1.7" fill="#fff" stroke="#111" stroke-width="1"/>
<path d="M380,258 L380.2,261.2" fill="none" stroke="#111" stroke-width="0.9"/>
<path d="M388,273.6 C389.5,273.2 391.5,273.8 391.8,275.2 C391.5,276.6 389.8,277 388.4,276.6 Z" fill="#000"/>
<path d="M406.4,252.5 C406.6,250.8 408,250 409.3,250.5 C409.8,249.6 410.5,249 411.3,249.2 C412,248.5 412.5,247.3 413.6,246.8 C415,246 417.6,245.8 418.6,246.8 C419.2,248.5 418.8,251.5 417.8,253.3 C417,254.3 415.3,254.2 414.6,253.2 C414.2,252.6 413.5,252.8 413.1,253.6 C412.6,254.3 411.5,254 411,253.2 C410.2,254.5 409,255.5 407.8,255.4 C406.8,255.1 406.3,253.8 406.4,252.5 Z" fill="#000"/>
<rect x="400.3" y="266.2" width="1.3" height="0.6" fill="#444"/>
<ellipse cx="366.4" cy="281" rx="0.6" ry="1.1" fill="#000"/>
<path d="M41.2,218.6 L46.1,227.7 L36.3,227.7 Z" fill="#000"/>
<line x1="41.3" y1="227.5" x2="41.3" y2="240.6" stroke="#444" stroke-width="1.2" />
<text transform="translate(45.3,271.7) rotate(-90)" font-size="11" text-anchor="middle">IL-2-V450</text>
<path d="M246.2,218.8 L251,227.7 L241.4,227.7 Z" fill="#000"/>
<line x1="246.2" y1="227.5" x2="246.2" y2="240.5" stroke="#444" stroke-width="1.2" />
<text transform="translate(250.3,269.8) rotate(-90)" font-size="11" text-anchor="middle">TNF-<tspan font-family="Liberation Serif" font-style="italic" font-size="115%">&#945;</tspan>-PE</text>
<text x="63" y="320" font-size="11" text-anchor="start" fill="#000" >IFN-<tspan font-family="Liberation Serif" font-style="italic" font-size="118%">&#947;</tspan>-APC</text>
<line x1="116" y1="317.5" x2="425" y2="317.5" stroke="#333" stroke-width="1" />
<path d="M434.2,317.5 L424,313.1 L424,321.9 Z" fill="#000"/>
<text transform="translate(15.6,344.7) scale(1,1.09)" font-size="19" font-weight="bold">d</text>
<line x1="70.5" y1="361.1" x2="70.5" y2="480" stroke="#858585" stroke-width="1" />
<line x1="66.3" y1="479.3" x2="70.5" y2="479.3" stroke="#555" stroke-width="0.9" />
<text x="62.2" y="483.5" font-size="11" text-anchor="end" fill="#000" >0</text>
<line x1="66.3" y1="455.66" x2="70.5" y2="455.66" stroke="#555" stroke-width="0.9" />
<text x="62.2" y="459.86" font-size="11" text-anchor="end" fill="#000" >20</text>
<line x1="66.3" y1="432.02" x2="70.5" y2="432.02" stroke="#555" stroke-width="0.9" />
<text x="62.2" y="436.21999999999997" font-size="11" text-anchor="end" fill="#000" >40</text>
<line x1="66.3" y1="408.38" x2="70.5" y2="408.38" stroke="#555" stroke-width="0.9" />
<text x="62.2" y="412.58" font-size="11" text-anchor="end" fill="#000" >60</text>
<line x1="66.3" y1="384.74" x2="70.5" y2="384.74" stroke="#555" stroke-width="0.9" />
<text x="62.2" y="388.94" font-size="11" text-anchor="end" fill="#000" >80</text>
<line x1="66.3" y1="361.1" x2="70.5" y2="361.1" stroke="#555" stroke-width="0.9" />
<text x="62.2" y="365.3" font-size="11" text-anchor="end" fill="#000" >100</text>
<line x1="70" y1="479.5" x2="249" y2="479.5" stroke="#858585" stroke-width="1" />
<text transform="translate(25.2,418) rotate(-90)" font-size="11" text-anchor="middle">% of responding</text>
<text transform="translate(39.4,418) rotate(-90)" font-size="11" text-anchor="middle">CD4<tspan dy="-3.6" font-size="7.6">+</tspan><tspan dy="3.6">CD44</tspan><tspan dy="-3.6" font-size="7.6">+</tspan><tspan dy="3.6"> T cells</tspan></text>
<text x="124.8" y="356" font-size="11" text-anchor="start" fill="#000" >gE/SLA-SE</text>
<line x1="87" y1="479.5" x2="87" y2="483" stroke="#666" stroke-width="0.9" />
<line x1="111.3" y1="479.5" x2="111.3" y2="483" stroke="#666" stroke-width="0.9" />
<line x1="135.5" y1="479.5" x2="135.5" y2="483" stroke="#666" stroke-width="0.9" />
<line x1="159.5" y1="479.5" x2="159.5" y2="483" stroke="#666" stroke-width="0.9" />
<line x1="183.5" y1="479.5" x2="183.5" y2="483" stroke="#666" stroke-width="0.9" />
<line x1="208.4" y1="479.5" x2="208.4" y2="483" stroke="#666" stroke-width="0.9" />
<line x1="232.5" y1="479.5" x2="232.5" y2="483" stroke="#666" stroke-width="0.9" />
<rect x="78.9" y="473.2" width="16.099999999999994" height="6.100000000000023" fill="#fff" stroke="#777" stroke-width="0.8" />
<rect x="103.5" y="450.4" width="15.799999999999997" height="28.900000000000034" fill="#fff" stroke="#444" stroke-width="0.8" />
<rect x="127.8" y="472.5" width="15.500000000000014" height="6.800000000000011" fill="#fff" stroke="#777" stroke-width="0.8" />
<rect x="151.5" y="478.6" width="16.0" height="0.6999999999999886" fill="#fff" stroke="#444" stroke-width="0.8" />
<rect x="175.5" y="475.4" width="16.400000000000006" height="3.900000000000034" fill="#fff" stroke="#444" stroke-width="0.8" />
<rect x="200.4" y="473" width="16.099999999999994" height="6.300000000000011" fill="#fff" stroke="#444" stroke-width="0.8" />
<rect x="224.2" y="423.2" width="16.700000000000017" height="56.10000000000002" fill="#fff" stroke="#444" stroke-width="0.8" />
<line x1="87" y1="473.2" x2="87" y2="466.5" stroke="#444" stroke-width="0.8" />
<line x1="83.5" y1="466.5" x2="90.5" y2="466.5" stroke="#444" stroke-width="0.8" />
<line x1="111.3" y1="450.4" x2="111.3" y2="417.3" stroke="#444" stroke-width="0.8" />
<line x1="107.7" y1="417.3" x2="114.89999999999999" y2="417.3" stroke="#444" stroke-width="0.8" />
<line x1="135.5" y1="472.5" x2="135.5" y2="466" stroke="#444" stroke-width="0.8" />
<line x1="132.0" y1="466" x2="139.0" y2="466" stroke="#444" stroke-width="0.8" />
<line x1="159.5" y1="478.6" x2="159.5" y2="474.6" stroke="#444" stroke-width="0.8" />
<line x1="155.85" y1="474.6" x2="163.15" y2="474.6" stroke="#444" stroke-width="0.8" />
<line x1="183.5" y1="475.4" x2="183.5" y2="470.5" stroke="#444" stroke-width="0.8" />
<line x1="180.0" y1="470.5" x2="187.0" y2="470.5" stroke="#444" stroke-width="0.8" />
<line x1="208.4" y1="473" x2="208.4" y2="468.2" stroke="#444" stroke-width="0.8" />
<line x1="204.9" y1="468.2" x2="211.9" y2="468.2" stroke="#444" stroke-width="0.8" />
<line x1="232.5" y1="423.2" x2="232.5" y2="388.2" stroke="#444" stroke-width="0.8" />
<line x1="229.0" y1="388.2" x2="236.0" y2="388.2" stroke="#444" stroke-width="0.8" />
<circle cx="81.2" cy="462.9" r="2.3" fill="#f9d5d5" stroke="#a07070" stroke-width="0.6"/>
<circle cx="85.1" cy="464.6" r="2.3" fill="#f9d5d5" stroke="#a07070" stroke-width="0.6"/>
<circle cx="89" cy="466.9" r="2.3" fill="#f9d5d5" stroke="#a07070" stroke-width="0.6"/>
<circle cx="86.8" cy="473.2" r="2.3" fill="#f9d5d5" stroke="#a07070" stroke-width="0.6"/>
<circle cx="81.2" cy="479.3" r="2.3" fill="#f9d5d5" stroke="#a07070" stroke-width="0.6"/>
<circle cx="85.1" cy="479.3" r="2.3" fill="#f9d5d5" stroke="#a07070" stroke-width="0.6"/>
<circle cx="89" cy="479.3" r="2.3" fill="#f9d5d5" stroke="#a07070" stroke-width="0.6"/>
<circle cx="92.6" cy="479.3" r="2.3" fill="#f9d5d5" stroke="#a07070" stroke-width="0.6"/>
<circle cx="111.3" cy="400.2" r="2.3" fill="#f9d5d5" stroke="#a07070" stroke-width="0.6"/>
<circle cx="111.3" cy="415.6" r="2.3" fill="#f9d5d5" stroke="#a07070" stroke-width="0.6"/>
<circle cx="111.3" cy="431" r="2.3" fill="#f9d5d5" stroke="#a07070" stroke-width="0.6"/>
<circle cx="111.3" cy="438.6" r="2.3" fill="#f9d5d5" stroke="#a07070" stroke-width="0.6"/>
<circle cx="104.8" cy="479.3" r="2.3" fill="#f9d5d5" stroke="#a07070" stroke-width="0.6"/>
<circle cx="109.2" cy="479.3" r="2.3" fill="#f9d5d5" stroke="#a07070" stroke-width="0.6"/>
<circle cx="113.4" cy="479.3" r="2.3" fill="#f9d5d5" stroke="#a07070" stroke-width="0.6"/>
<circle cx="117.3" cy="479.3" r="2.3" fill="#f9d5d5" stroke="#a07070" stroke-width="0.6"/>
<circle cx="133.7" cy="464.2" r="2.3" fill="#f9cccc" stroke="#a06060" stroke-width="0.6"/>
<circle cx="137.3" cy="462.5" r="2.3" fill="#f9cccc" stroke="#a06060" stroke-width="0.6"/>
<circle cx="133.7" cy="470.8" r="2.3" fill="#f9cccc" stroke="#a06060" stroke-width="0.6"/>
<circle cx="137.3" cy="469.5" r="2.3" fill="#f9cccc" stroke="#a06060" stroke-width="0.6"/>
<circle cx="133.7" cy="476.7" r="2.3" fill="#f9cccc" stroke="#a06060" stroke-width="0.6"/>
<circle cx="129.8" cy="479.3" r="2.3" fill="#f9cccc" stroke="#a06060" stroke-width="0.6"/>
<circle cx="137.3" cy="479.3" r="2.3" fill="#f9cccc" stroke="#a06060" stroke-width="0.6"/>
<circle cx="141.6" cy="478.3" r="2.3" fill="#f9cccc" stroke="#a06060" stroke-width="0.6"/>
<circle cx="159.5" cy="469.5" r="2.3" fill="#f48686" stroke="#7a2a2a" stroke-width="0.6"/>
<circle cx="153.8" cy="479.4" r="2.3" fill="#f48686" stroke="#7a2a2a" stroke-width="0.6"/>
<circle cx="157" cy="479.4" r="2.3" fill="#f48686" stroke="#7a2a2a" stroke-width="0.6"/>
<circle cx="160.3" cy="479.4" r="2.3" fill="#f48686" stroke="#7a2a2a" stroke-width="0.6"/>
<circle cx="163.5" cy="479.4" r="2.3" fill="#f48686" stroke="#7a2a2a" stroke-width="0.6"/>
<circle cx="165.9" cy="479.4" r="2.3" fill="#f48686" stroke="#7a2a2a" stroke-width="0.6"/>
<circle cx="185.5" cy="468.5" r="2.3" fill="#f48686" stroke="#7a2a2a" stroke-width="0.6"/>
<circle cx="182.7" cy="470.6" r="2.3" fill="#f48686" stroke="#7a2a2a" stroke-width="0.6"/>
<circle cx="177.9" cy="474.6" r="2.3" fill="#f48686" stroke="#7a2a2a" stroke-width="0.6"/>
<circle cx="182.7" cy="475.4" r="2.3" fill="#f48686" stroke="#7a2a2a" stroke-width="0.6"/>
<circle cx="187.1" cy="477" r="2.3" fill="#f48686" stroke="#7a2a2a" stroke-width="0.6"/>
<circle cx="180.3" cy="479.4" r="2.3" fill="#f48686" stroke="#7a2a2a" stroke-width="0.6"/>
<circle cx="185.1" cy="479.7" r="2.3" fill="#f48686" stroke="#7a2a2a" stroke-width="0.6"/>
<circle cx="202.3" cy="465.3" r="2.3" fill="#f48686" stroke="#7a2a2a" stroke-width="0.6"/>
<circle cx="210" cy="470.1" r="2.3" fill="#f48686" stroke="#7a2a2a" stroke-width="0.6"/>
<circle cx="214" cy="469" r="2.3" fill="#f48686" stroke="#7a2a2a" stroke-width="0.6"/>
<circle cx="202" cy="473" r="2.3" fill="#f48686" stroke="#7a2a2a" stroke-width="0.6"/>
<circle cx="206" cy="474.6" r="2.3" fill="#f48686" stroke="#7a2a2a" stroke-width="0.6"/>
<circle cx="213.7" cy="475.7" r="2.3" fill="#f48686" stroke="#7a2a2a" stroke-width="0.6"/>
<circle cx="202.3" cy="478.6" r="2.3" fill="#f48686" stroke="#7a2a2a" stroke-width="0.6"/>
<circle cx="210" cy="477.8" r="2.3" fill="#f48686" stroke="#7a2a2a" stroke-width="0.6"/>
<circle cx="232.3" cy="378.8" r="2.3" fill="#a80000" stroke="#4a0000" stroke-width="0.6"/>
<circle cx="232.3" cy="389" r="2.3" fill="#a80000" stroke="#4a0000" stroke-width="0.6"/>
<circle cx="232.3" cy="394.6" r="2.3" fill="#a80000" stroke="#4a0000" stroke-width="0.6"/>
<circle cx="232.3" cy="406.6" r="2.3" fill="#a80000" stroke="#4a0000" stroke-width="0.6"/>
<circle cx="232.5" cy="443.3" r="2.3" fill="#a80000" stroke="#4a0000" stroke-width="0.6"/>
<circle cx="232.5" cy="450.5" r="2.3" fill="#a80000" stroke="#4a0000" stroke-width="0.6"/>
<circle cx="232.5" cy="455.7" r="2.3" fill="#a80000" stroke="#4a0000" stroke-width="0.6"/>
<circle cx="232.5" cy="467.4" r="2.3" fill="#a80000" stroke="#4a0000" stroke-width="0.6"/>
<circle cx="83.9" cy="492.3" r="1.9" fill="#000"/>
<circle cx="158.7" cy="492.3" r="1.9" fill="#000"/>
<circle cx="184.1" cy="492.3" r="1.9" fill="#000"/>
<circle cx="233.7" cy="492.3" r="1.9" fill="#000"/>
<circle cx="109" cy="510.7" r="1.9" fill="#000"/>
<circle cx="158.7" cy="510.7" r="1.9" fill="#000"/>
<circle cx="207.4" cy="510.7" r="1.9" fill="#000"/>
<circle cx="233.7" cy="510.7" r="1.9" fill="#000"/>
<circle cx="133" cy="529.6" r="1.9" fill="#000"/>
<circle cx="184.1" cy="529.6" r="1.9" fill="#000"/>
<circle cx="207.4" cy="529.6" r="1.9" fill="#000"/>
<circle cx="233.7" cy="529.6" r="1.9" fill="#000"/>
<text x="67" y="497" font-size="11" text-anchor="end" fill="#000" >IFN-<tspan font-family="Liberation Serif" font-style="italic" font-size="118%">&#947;</tspan></text>
<text x="67" y="515.6" font-size="11" text-anchor="end" fill="#000" >TNF</text>
<text x="67" y="534.4" font-size="11" text-anchor="end" fill="#000" >IL-2</text>
<text x="67" y="552.4" font-size="11.4" text-anchor="end" fill="#000" ># of functions</text>
<rect x="74.6" y="541.3" width="70.1" height="13.2" fill="#b3b3b3" stroke="#333" stroke-width="0.8" />
<text x="109.64999999999999" y="551.7" font-size="10.5" text-anchor="middle" fill="#000" >1</text>
<rect x="147" y="541.3" width="70.69999999999999" height="13.2" fill="#8c8cf5" stroke="#333" stroke-width="0.8" />
<text x="182.35" y="551.7" font-size="10.5" text-anchor="middle" fill="#000" >2</text>
<rect x="219.7" y="541.3" width="22.80000000000001" height="13.2" fill="#cc2200" stroke="#333" stroke-width="0.8" />
<text x="231.1" y="551.7" font-size="10.5" text-anchor="middle" fill="#000" >3</text>
<text transform="translate(295.6,344.8) scale(1,1.09)" font-size="19" font-weight="bold">e</text>
<line x1="350.5" y1="359.0" x2="350.5" y2="480" stroke="#858585" stroke-width="1" />
<line x1="348" y1="479.2" x2="350.5" y2="479.2" stroke="#666" stroke-width="0.9" />
<text x="348" y="483.4" font-size="11" text-anchor="end" fill="#000" >0</text>
<line x1="348" y1="455.15999999999997" x2="350.5" y2="455.15999999999997" stroke="#666" stroke-width="0.9" />
<text x="348" y="459.35999999999996" font-size="11" text-anchor="end" fill="#000" >20</text>
<line x1="348" y1="431.12" x2="350.5" y2="431.12" stroke="#666" stroke-width="0.9" />
<text x="348" y="435.32" font-size="11" text-anchor="end" fill="#000" >40</text>
<line x1="348" y1="407.08" x2="350.5" y2="407.08" stroke="#666" stroke-width="0.9" />
<text x="348" y="411.28" font-size="11" text-anchor="end" fill="#000" >60</text>
<line x1="348" y1="383.03999999999996" x2="350.5" y2="383.03999999999996" stroke="#666" stroke-width="0.9" />
<text x="348" y="387.23999999999995" font-size="11" text-anchor="end" fill="#000" >80</text>
<line x1="348" y1="359.0" x2="350.5" y2="359.0" stroke="#666" stroke-width="0.9" />
<text x="348" y="363.2" font-size="11" text-anchor="end" fill="#000" >100</text>
<line x1="350" y1="479.5" x2="531.8" y2="479.5" stroke="#858585" stroke-width="1" />
<text transform="translate(312.2,419.3) rotate(-90)" font-size="11" text-anchor="middle">% of proliferating</text>
<text transform="translate(326.3,419.3) rotate(-90)" font-size="11" text-anchor="middle">CD4<tspan dy="-3.6" font-size="7.6">+</tspan><tspan dy="3.6"> T cells</tspan></text>
<line x1="380.85" y1="474.2" x2="380.85" y2="470.1" stroke="#444" stroke-width="0.8" />
<line x1="370.7" y1="470.1" x2="391.1" y2="470.1" stroke="#444" stroke-width="0.8" />
<rect x="361" y="474.2" width="39.69999999999999" height="5.0" fill="#d4d4d4" stroke="#444" stroke-width="0.8" />
<line x1="441.2" y1="469.3" x2="441.2" y2="462.6" stroke="#444" stroke-width="0.8" />
<line x1="430.5" y1="462.6" x2="451.5" y2="462.6" stroke="#444" stroke-width="0.8" />
<rect x="421.2" y="469.3" width="40.0" height="9.899999999999977" fill="#d4d4d4" stroke="#444" stroke-width="0.8" />
<line x1="501.6" y1="402.1" x2="501.6" y2="395.4" stroke="#444" stroke-width="0.8" />
<line x1="491.2" y1="395.4" x2="511.7" y2="395.4" stroke="#444" stroke-width="0.8" />
<rect x="481.6" y="402.1" width="40.0" height="77.09999999999997" fill="#d4d4d4" stroke="#444" stroke-width="0.8" />
<line x1="381.5" y1="479.5" x2="381.5" y2="482.5" stroke="#555" stroke-width="0.9" />
<line x1="441.5" y1="479.5" x2="441.5" y2="482.5" stroke="#555" stroke-width="0.9" />
<line x1="501.5" y1="479.5" x2="501.5" y2="482.5" stroke="#555" stroke-width="0.9" />
<polyline points="441.3,386.6 441.3,380.2 501.5,380.2 501.5,386.6" fill="none" stroke="#555" stroke-width="0.8"/>
<polygon points="465.02,372.75 465.69,374.09 467.16,374.30 466.09,375.35 466.35,376.82 465.02,376.12 463.70,376.82 463.96,375.35 462.89,374.30 464.36,374.09" fill="#111"/>
<polygon points="469.27,372.75 469.94,374.09 471.41,374.30 470.34,375.35 470.60,376.82 469.27,376.12 467.95,376.82 468.21,375.35 467.14,374.30 468.61,374.09" fill="#111"/>
<polygon points="473.52,372.75 474.19,374.09 475.66,374.30 474.59,375.35 474.85,376.82 473.52,376.12 472.20,376.82 472.46,375.35 471.39,374.30 472.86,374.09" fill="#111"/>
<polygon points="477.77,372.75 478.44,374.09 479.91,374.30 478.84,375.35 479.10,376.82 477.77,376.12 476.45,376.82 476.71,375.35 475.64,374.30 477.11,374.09" fill="#111"/>
<text x="381" y="492.1" font-size="11" text-anchor="middle" fill="#000" >-</text>
<text x="441.4" y="491.9" font-size="11" text-anchor="middle" fill="#000" >+</text>
<text x="501.6" y="491.9" font-size="11" text-anchor="middle" fill="#000" >+</text>
<text x="381" y="504.6" font-size="11" text-anchor="middle" fill="#000" >-</text>
<text transform="translate(451.5,503.5) rotate(-45)" font-size="11" text-anchor="end">gE</text>
<text transform="translate(510.5,504.5) rotate(-45)" font-size="11" text-anchor="end">gE/SLA-SE</text>
<text x="544" y="492" font-size="11" text-anchor="start" font-weight="bold" fill="#000" >VZV priming</text>
<text x="544" y="510.6" font-size="11" text-anchor="start" font-weight="bold" fill="#000" >Immunogens</text>
<text transform="translate(18.4,593.6) scale(1,1.09)" font-size="19" font-weight="bold">f</text>
<line x1="67.5" y1="603.5" x2="67.5" y2="745" stroke="#858585" stroke-width="1" />
<line x1="63" y1="744.2" x2="67.5" y2="744.2" stroke="#bbb" stroke-width="1" />
<text x="62" y="748.4000000000001" font-size="11" text-anchor="end" fill="#000" >0</text>
<line x1="63" y1="716.0600000000001" x2="67.5" y2="716.0600000000001" stroke="#bbb" stroke-width="1" />
<text x="62" y="720.2600000000001" font-size="11" text-anchor="end" fill="#000" >200</text>
<line x1="63" y1="687.9200000000001" x2="67.5" y2="687.9200000000001" stroke="#bbb" stroke-width="1" />
<text x="62" y="692.1200000000001" font-size="11" text-anchor="end" fill="#000" >400</text>
<line x1="63" y1="659.7800000000001" x2="67.5" y2="659.7800000000001" stroke="#bbb" stroke-width="1" />
<text x="62" y="663.9800000000001" font-size="11" text-anchor="end" fill="#000" >600</text>
<line x1="63" y1="631.6400000000001" x2="67.5" y2="631.6400000000001" stroke="#bbb" stroke-width="1" />
<text x="62" y="635.8400000000001" font-size="11" text-anchor="end" fill="#000" >800</text>
<line x1="63" y1="603.5" x2="67.5" y2="603.5" stroke="#bbb" stroke-width="1" />
<text x="62" y="607.7" font-size="11" text-anchor="end" fill="#000" >1000</text>
<line x1="67" y1="744.5" x2="270" y2="744.5" stroke="#999" stroke-width="1" />
<text transform="translate(25,667.5) rotate(-90)" font-size="11" text-anchor="middle">SFC/1X10<tspan dy="-4" font-size="7">6</tspan><tspan dy="4"> cells</tspan></text>
<rect x="78" y="603.1999999999999" width="14" height="7.0" fill="#4472c4" stroke="#555" stroke-width="0.7" />
<text x="101" y="608.1" font-size="11" text-anchor="start" fill="#000" >gE 1</text>
<rect x="78" y="617.4" width="14" height="7.0" fill="#8faadc" stroke="#555" stroke-width="0.7" />
<text x="101" y="622.8" font-size="11" text-anchor="start" fill="#000" >gE 2</text>
<rect x="78" y="632.1999999999999" width="14" height="7.0" fill="#dae3f3" stroke="#555" stroke-width="0.7" />
<text x="101" y="637.4" font-size="11" text-anchor="start" fill="#000" >gE 3</text>
<line x1="92.1" y1="744.2" x2="92.1" y2="749.5" stroke="#444" stroke-width="0.8" />
<line x1="130.4" y1="744.2" x2="130.4" y2="749.5" stroke="#444" stroke-width="0.8" />
<line x1="168.4" y1="744.2" x2="168.4" y2="749.5" stroke="#444" stroke-width="0.8" />
<line x1="206.4" y1="744.2" x2="206.4" y2="749.5" stroke="#444" stroke-width="0.8" />
<line x1="244.4" y1="744.2" x2="244.4" y2="749.5" stroke="#444" stroke-width="0.8" />
<line x1="82.6" y1="743.5" x2="101.6" y2="743.5" stroke="#888" stroke-width="0.8" />
<line x1="120.9" y1="743.5" x2="139.9" y2="743.5" stroke="#888" stroke-width="0.8" />
<line x1="158.9" y1="743.5" x2="177.9" y2="743.5" stroke="#888" stroke-width="0.8" />
<rect x="193.6" y="694.2" width="25.099999999999994" height="50.0" fill="#4472c4" stroke="#444" stroke-width="0.8" />
<rect x="193.6" y="688" width="25.099999999999994" height="6.2000000000000455" fill="#8faadc" stroke="#444" stroke-width="0.8" />
<line x1="193.6" y1="687.4" x2="218.7" y2="687.4" stroke="#222" stroke-width="1.0" />
<line x1="206.4" y1="693.8" x2="206.4" y2="671.1" stroke="#333" stroke-width="0.8" />
<line x1="200.25" y1="671.1" x2="212.55" y2="671.1" stroke="#888" stroke-width="0.9" />
<line x1="200.25" y1="684.6" x2="212.55" y2="684.6" stroke="#555" stroke-width="0.8" />
<rect x="231.8" y="686.5" width="25.099999999999966" height="57.700000000000045" fill="#4472c4" stroke="#444" stroke-width="0.8" />
<rect x="231.8" y="672" width="25.099999999999966" height="14.5" fill="#8faadc" stroke="#444" stroke-width="0.8" />
<line x1="231.8" y1="671.5" x2="256.9" y2="671.5" stroke="#222" stroke-width="1.0" />
<line x1="244.4" y1="686.5" x2="244.4" y2="656.5" stroke="#333" stroke-width="0.8" />
<line x1="238.25" y1="656.5" x2="250.55" y2="656.5" stroke="#555" stroke-width="0.8" />
<line x1="238.25" y1="661.4" x2="250.55" y2="661.4" stroke="#555" stroke-width="0.8" />
<polyline points="170.5,634.3 170.5,628.1 241.8,628.1 241.8,634.3" fill="none" stroke="#555" stroke-width="0.8"/>
<polygon points="201.62,621.35 202.29,622.69 203.76,622.90 202.69,623.95 202.95,625.42 201.62,624.73 200.30,625.42 200.56,623.95 199.49,622.90 200.96,622.69" fill="#111"/>
<polygon points="205.88,621.35 206.54,622.69 208.01,622.90 206.94,623.95 207.20,625.42 205.88,624.73 204.55,625.42 204.81,623.95 203.74,622.90 205.21,622.69" fill="#111"/>
<polygon points="210.12,621.35 210.79,622.69 212.26,622.90 211.19,623.95 211.45,625.42 210.12,624.73 208.80,625.42 209.06,623.95 207.99,622.90 209.46,622.69" fill="#111"/>
<polygon points="214.38,621.35 215.04,622.69 216.51,622.90 215.44,623.95 215.70,625.42 214.38,624.73 213.05,625.42 213.31,623.95 212.24,622.90 213.71,622.69" fill="#111"/>
<polyline points="170.5,652.3 170.5,646.5 205.5,646.5 205.5,652.3" fill="none" stroke="#555" stroke-width="0.8"/>
<polygon points="185.25,639.45 185.91,640.79 187.39,641.00 186.32,642.05 186.57,643.52 185.25,642.83 183.93,643.52 184.18,642.05 183.11,641.00 184.59,640.79" fill="#111"/>
<polygon points="189.50,639.45 190.16,640.79 191.64,641.00 190.57,642.05 190.82,643.52 189.50,642.83 188.18,643.52 188.43,642.05 187.36,641.00 188.84,640.79" fill="#111"/>
<polygon points="193.75,639.45 194.41,640.79 195.89,641.00 194.82,642.05 195.07,643.52 193.75,642.83 192.43,643.52 192.68,642.05 191.61,641.00 193.09,640.79" fill="#111"/>
<text x="93.39999999999999" y="765.0" font-size="11" text-anchor="middle" fill="#000" >-</text>
<text x="131.70000000000002" y="764.2" font-size="11" text-anchor="middle" fill="#000" >+</text>
<text x="169.70000000000002" y="764.2" font-size="11" text-anchor="middle" fill="#000" >+</text>
<text x="207.70000000000002" y="764.2" font-size="11" text-anchor="middle" fill="#000" >+</text>
<text x="245.70000000000002" y="764.2" font-size="11" text-anchor="middle" fill="#000" >+</text>
<text x="93.39999999999999" y="779.1" font-size="11" text-anchor="middle" fill="#000" >-</text>
<text x="131.70000000000002" y="779.1" font-size="11" text-anchor="middle" fill="#000" >-</text>
<text transform="translate(175,778.5) rotate(-45)" font-size="11" text-anchor="end">gE</text>
<text transform="translate(212,771.9) rotate(-45)" font-size="11" text-anchor="end">Shingrix</text>
<text transform="translate(251,778.4) rotate(-45)" font-size="11" text-anchor="end">gE/SLA-SE</text>
<text x="271.2" y="768.9" font-size="11" text-anchor="start" font-weight="bold" fill="#000" >VZV priming</text>
<text x="271.2" y="786.3" font-size="11" text-anchor="start" font-weight="bold" fill="#000" >Immunogens</text>
<text transform="translate(329.6,593.6) scale(1,1.09)" font-size="19" font-weight="bold">g</text>
<line x1="390.5" y1="603.6999999999999" x2="390.5" y2="742" stroke="#858585" stroke-width="1" />
<line x1="385.5" y1="741.3" x2="390.5" y2="741.3" stroke="#bbb" stroke-width="1" />
<text x="385.5" y="745.5" font-size="11" text-anchor="end" fill="#000" >0</text>
<line x1="385.5" y1="706.9" x2="390.5" y2="706.9" stroke="#bbb" stroke-width="1" />
<text x="385.5" y="711.1" font-size="11" text-anchor="end" fill="#000" >2</text>
<line x1="385.5" y1="672.5" x2="390.5" y2="672.5" stroke="#bbb" stroke-width="1" />
<text x="385.5" y="676.7" font-size="11" text-anchor="end" fill="#000" >4</text>
<line x1="385.5" y1="638.0999999999999" x2="390.5" y2="638.0999999999999" stroke="#bbb" stroke-width="1" />
<text x="385.5" y="642.3" font-size="11" text-anchor="end" fill="#000" >6</text>
<line x1="385.5" y1="603.6999999999999" x2="390.5" y2="603.6999999999999" stroke="#bbb" stroke-width="1" />
<text x="385.5" y="607.9" font-size="11" text-anchor="end" fill="#000" >8</text>
<line x1="390" y1="741.5" x2="586.8" y2="741.5" stroke="#858585" stroke-width="1" />
<text transform="translate(346.6,671.8) rotate(-90)" font-size="11" text-anchor="middle">Frequency of</text>
<text transform="translate(360.9,671.8) rotate(-90)" font-size="11" text-anchor="middle">cytokine producing</text>
<text transform="translate(374.7,671.8) rotate(-90)" font-size="11" text-anchor="middle">CD4<tspan dy="-3.6" font-size="7.6">+</tspan><tspan dy="3.6">CD44</tspan><tspan dy="-3.6" font-size="7.6">+</tspan><tspan dy="3.6"> T cells</tspan></text>
<line x1="415.7" y1="741.3" x2="415.7" y2="746.7" stroke="#444" stroke-width="0.8" />
<line x1="452.5" y1="741.3" x2="452.5" y2="746.7" stroke="#444" stroke-width="0.8" />
<line x1="488.9" y1="741.3" x2="488.9" y2="746.7" stroke="#444" stroke-width="0.8" />
<line x1="525.6" y1="741.3" x2="525.6" y2="746.7" stroke="#444" stroke-width="0.8" />
<line x1="562.6" y1="741.3" x2="562.6" y2="746.7" stroke="#444" stroke-width="0.8" />
<rect x="403.34999999999997" y="740" width="24.700000000000045" height="1.2999999999999545" fill="#c8915a" stroke="none" stroke-width="0.8" />
<line x1="403.34999999999997" y1="740" x2="428.05" y2="740" stroke="#444" stroke-width="0.7" />
<rect x="403.34999999999997" y="736.9" width="24.700000000000045" height="3.1000000000000227" fill="#777" stroke="none" stroke-width="0.8" />
<line x1="403.34999999999997" y1="736.9" x2="428.05" y2="736.9" stroke="#444" stroke-width="0.7" />
<rect x="403.34999999999997" y="736.9" width="24.700000000000045" height="4.399999999999977" fill="none" stroke="#444" stroke-width="0.8" />
<rect x="409.5" y="736.2" width="11.2" height="4.5" fill="#333" stroke="none" stroke-width="0.8" />
<rect x="440.15" y="739.9" width="24.700000000000045" height="1.3999999999999773" fill="#ccc" stroke="none" stroke-width="0.8" />
<line x1="440.15" y1="739.9" x2="464.85" y2="739.9" stroke="#888" stroke-width="0.7" />
<rect x="440.15" y="739.9" width="24.700000000000045" height="1.3999999999999773" fill="none" stroke="#888" stroke-width="0.8" />
<rect x="446.6" y="739" width="11.2" height="2.3" fill="#333" stroke="none" stroke-width="0.8" />
<rect x="476.54999999999995" y="740" width="24.700000000000045" height="1.2999999999999545" fill="#c8915a" stroke="none" stroke-width="0.8" />
<line x1="476.54999999999995" y1="740" x2="501.25" y2="740" stroke="#444" stroke-width="0.7" />
<rect x="476.54999999999995" y="738" width="24.700000000000045" height="2" fill="#222" stroke="none" stroke-width="0.8" />
<line x1="476.54999999999995" y1="738" x2="501.25" y2="738" stroke="#444" stroke-width="0.7" />
<rect x="476.54999999999995" y="735.1" width="24.700000000000045" height="2.8999999999999773" fill="#999" stroke="none" stroke-width="0.8" />
<line x1="476.54999999999995" y1="735.1" x2="501.25" y2="735.1" stroke="#444" stroke-width="0.7" />
<rect x="476.54999999999995" y="735.1" width="24.700000000000045" height="6.199999999999932" fill="none" stroke="#444" stroke-width="0.8" />
<line x1="482.9" y1="733.3" x2="494.9" y2="733.3" stroke="#333" stroke-width="0.8" />
<line x1="488.9" y1="733.3" x2="488.9" y2="740" stroke="#333" stroke-width="0.8" />
<line x1="482.9" y1="736.5" x2="494.9" y2="736.5" stroke="#444" stroke-width="0.8" />
<line x1="482.9" y1="738.5" x2="494.9" y2="738.5" stroke="#444" stroke-width="0.8" />
<rect x="513.25" y="725.6" width="24.700000000000045" height="15.699999999999932" fill="#ff0000" stroke="none" stroke-width="0.8" />
<line x1="513.25" y1="725.6" x2="537.95" y2="725.6" stroke="#444" stroke-width="0.7" />
<rect x="513.25" y="721.5" width="24.700000000000045" height="4.100000000000023" fill="#f9b985" stroke="none" stroke-width="0.8" />
<line x1="513.25" y1="721.5" x2="537.95" y2="721.5" stroke="#444" stroke-width="0.7" />
<rect x="513.25" y="714.5" width="24.700000000000045" height="7.0" fill="#c9bb88" stroke="none" stroke-width="0.8" />
<line x1="513.25" y1="714.5" x2="537.95" y2="714.5" stroke="#444" stroke-width="0.7" />
<rect x="513.25" y="711.3" width="24.700000000000045" height="3.2000000000000455" fill="#ffff00" stroke="none" stroke-width="0.8" />
<line x1="513.25" y1="711.3" x2="537.95" y2="711.3" stroke="#444" stroke-width="0.7" />
<rect x="513.25" y="707.7" width="24.700000000000045" height="3.599999999999909" fill="#fff" stroke="none" stroke-width="0.8" />
<line x1="513.25" y1="707.7" x2="537.95" y2="707.7" stroke="#444" stroke-width="0.7" />
<rect x="513.25" y="706.6" width="24.700000000000045" height="1.1000000000000227" fill="#d4d4d4" stroke="none" stroke-width="0.8" />
<line x1="513.25" y1="706.6" x2="537.95" y2="706.6" stroke="#444" stroke-width="0.7" />
<rect x="513.25" y="696.4" width="24.700000000000045" height="10.200000000000045" fill="#a0a0a8" stroke="none" stroke-width="0.8" />
<line x1="513.25" y1="696.4" x2="537.95" y2="696.4" stroke="#444" stroke-width="0.7" />
<rect x="513.25" y="696.4" width="24.700000000000045" height="44.89999999999998" fill="none" stroke="#444" stroke-width="0.8" />
<line x1="525.6" y1="690.4" x2="525.6" y2="726" stroke="#222" stroke-width="0.8" />
<line x1="519.45" y1="690.4" x2="531.75" y2="690.4" stroke="#333" stroke-width="0.8" />
<line x1="519.45" y1="702.3" x2="531.75" y2="702.3" stroke="#555" stroke-width="0.8" />
<line x1="519.45" y1="705.5" x2="531.75" y2="705.5" stroke="#333" stroke-width="0.8" />
<line x1="519.45" y1="706.6" x2="531.75" y2="706.6" stroke="#222" stroke-width="0.8" />
<line x1="519.45" y1="709.1" x2="531.75" y2="709.1" stroke="#555" stroke-width="0.8" />
<line x1="519.45" y1="716.4" x2="531.75" y2="716.4" stroke="#555" stroke-width="0.8" />
<line x1="519.45" y1="718.3" x2="531.75" y2="718.3" stroke="#555" stroke-width="0.8" />
<line x1="519.45" y1="723.7" x2="531.75" y2="723.7" stroke="#888" stroke-width="0.8" />
<rect x="550.25" y="716.7" width="24.700000000000045" height="24.59999999999991" fill="#ff0000" stroke="none" stroke-width="0.8" />
<line x1="550.25" y1="716.7" x2="574.95" y2="716.7" stroke="#444" stroke-width="0.7" />
<rect x="550.25" y="711.6" width="24.700000000000045" height="5.100000000000023" fill="#f9b985" stroke="none" stroke-width="0.8" />
<line x1="550.25" y1="711.6" x2="574.95" y2="711.6" stroke="#444" stroke-width="0.7" />
<rect x="550.25" y="697.9" width="24.700000000000045" height="13.700000000000045" fill="#c9bb88" stroke="none" stroke-width="0.8" />
<line x1="550.25" y1="697.9" x2="574.95" y2="697.9" stroke="#444" stroke-width="0.7" />
<rect x="550.25" y="693.5" width="24.700000000000045" height="4.399999999999977" fill="#ffff00" stroke="none" stroke-width="0.8" />
<line x1="550.25" y1="693.5" x2="574.95" y2="693.5" stroke="#444" stroke-width="0.7" />
<rect x="550.25" y="691.6" width="24.700000000000045" height="1.8999999999999773" fill="#fff" stroke="none" stroke-width="0.8" />
<line x1="550.25" y1="691.6" x2="574.95" y2="691.6" stroke="#444" stroke-width="0.7" />
<rect x="550.25" y="690.5" width="24.700000000000045" height="1.1000000000000227" fill="#d4d4d4" stroke="none" stroke-width="0.8" />
<line x1="550.25" y1="690.5" x2="574.95" y2="690.5" stroke="#444" stroke-width="0.7" />
<rect x="550.25" y="681.1" width="24.700000000000045" height="9.399999999999977" fill="#a0a0a8" stroke="none" stroke-width="0.8" />
<line x1="550.25" y1="681.1" x2="574.95" y2="681.1" stroke="#444" stroke-width="0.7" />
<rect x="550.25" y="681.1" width="24.700000000000045" height="60.19999999999993" fill="none" stroke="#444" stroke-width="0.8" />
<line x1="562.6" y1="672.9" x2="562.6" y2="716.7" stroke="#222" stroke-width="0.8" />
<line x1="556.45" y1="672.9" x2="568.75" y2="672.9" stroke="#aaa" stroke-width="0.8" />
<line x1="556.45" y1="684.5" x2="568.75" y2="684.5" stroke="#555" stroke-width="0.8" />
<line x1="556.45" y1="690" x2="568.75" y2="690" stroke="#111" stroke-width="0.8" />
<line x1="556.45" y1="690.8" x2="568.75" y2="690.8" stroke="#111" stroke-width="0.8" />
<line x1="556.45" y1="708.5" x2="568.75" y2="708.5" stroke="#888" stroke-width="0.8" />
<line x1="556.45" y1="710.5" x2="568.75" y2="710.5" stroke="#888" stroke-width="0.8" />
<line x1="556.45" y1="715" x2="568.75" y2="715" stroke="#888" stroke-width="0.8" />
<polyline points="490.6,678.1 490.6,672.3 525,672.3 525,678.1" fill="none" stroke="#555" stroke-width="0.8"/>
<polygon points="508.50,664.75 509.16,666.09 510.64,666.30 509.57,667.35 509.82,668.82 508.50,668.12 507.18,668.82 507.43,667.35 506.36,666.30 507.84,666.09" fill="#111"/>
<polyline points="490.6,659.7 490.6,653.9 561.6,653.9 561.6,659.7" fill="none" stroke="#555" stroke-width="0.8"/>
<polygon points="524.77,647.35 525.44,648.69 526.91,648.90 525.84,649.95 526.10,651.42 524.77,650.73 523.45,651.42 523.71,649.95 522.64,648.90 524.11,648.69" fill="#111"/>
<polygon points="529.02,647.35 529.69,648.69 531.16,648.90 530.09,649.95 530.35,651.42 529.02,650.73 527.70,651.42 527.96,649.95 526.89,648.90 528.36,648.69" fill="#111"/>
<text x="415.7" y="759.8" font-size="11" text-anchor="middle" fill="#000" >-</text>
<text x="452.5" y="759.8" font-size="11" text-anchor="middle" fill="#000" >+</text>
<text x="488.9" y="759.8" font-size="11" text-anchor="middle" fill="#000" >+</text>
<text x="525.6" y="759.8" font-size="11" text-anchor="middle" fill="#000" >+</text>
<text x="562.6" y="759.8" font-size="11" text-anchor="middle" fill="#000" >+</text>
<text x="415.7" y="773.3" font-size="11" text-anchor="middle" fill="#000" >-</text>
<text x="452.5" y="773.3" font-size="11" text-anchor="middle" fill="#000" >-</text>
<text transform="translate(495,771.5) rotate(-45)" font-size="11" text-anchor="end">gE</text>
<text transform="translate(533.8,765.5) rotate(-45)" font-size="11" text-anchor="end">Shingrix</text>
<text transform="translate(569,774.8) rotate(-45)" font-size="11" text-anchor="end">gE/SLA-SE</text>
<text x="592" y="762.6" font-size="11" text-anchor="start" font-weight="bold" fill="#000" >VZV priming</text>
<text x="592" y="780" font-size="11" text-anchor="start" font-weight="bold" fill="#000" >Immunogens</text>
<rect x="593.2" y="619.8" width="12.7" height="4.0" fill="#ff0000" stroke="#555" stroke-width="0.7" />
<text x="612.4" y="625.1" font-size="11.2" text-anchor="start" fill="#000" >IFN-<tspan font-family="Liberation Serif" font-style="italic" font-size="118%">&#947;</tspan>,TNF,IL-2</text>
<rect x="593.2" y="634.15" width="12.7" height="4.0" fill="#f9b985" stroke="#555" stroke-width="0.7" />
<text x="612.4" y="639.45" font-size="11.2" text-anchor="start" fill="#000" >IFN-<tspan font-family="Liberation Serif" font-style="italic" font-size="118%">&#947;</tspan>, IL-2</text>
<rect x="593.2" y="648.5" width="12.7" height="4.0" fill="#c9bb88" stroke="#555" stroke-width="0.7" />
<text x="612.4" y="653.8000000000001" font-size="11.2" text-anchor="start" fill="#000" >IFN-<tspan font-family="Liberation Serif" font-style="italic" font-size="118%">&#947;</tspan>,TNF</text>
<rect x="593.2" y="662.8499999999999" width="12.7" height="4.0" fill="#ffff00" stroke="#555" stroke-width="0.7" />
<text x="612.4" y="668.15" font-size="11.2" text-anchor="start" fill="#000" >TNF,IL-2</text>
<rect x="593.2" y="677.1999999999999" width="12.7" height="4.0" fill="#ffffff" stroke="#555" stroke-width="0.7" />
<text x="612.4" y="682.5" font-size="11.2" text-anchor="start" fill="#000" >IL-2</text>
<rect x="593.2" y="691.55" width="12.7" height="4.0" fill="#d4d4d4" stroke="#555" stroke-width="0.7" />
<text x="612.4" y="696.85" font-size="11.2" text-anchor="start" fill="#000" >TNF</text>
<rect x="593.2" y="705.9" width="12.7" height="4.0" fill="#9a9a9a" stroke="#555" stroke-width="0.7" />
<text x="612.4" y="711.2" font-size="11.2" text-anchor="start" fill="#000" >IFN-<tspan font-family="Liberation Serif" font-style="italic" font-size="118%">&#947;</tspan></text>
</svg></body></html>
